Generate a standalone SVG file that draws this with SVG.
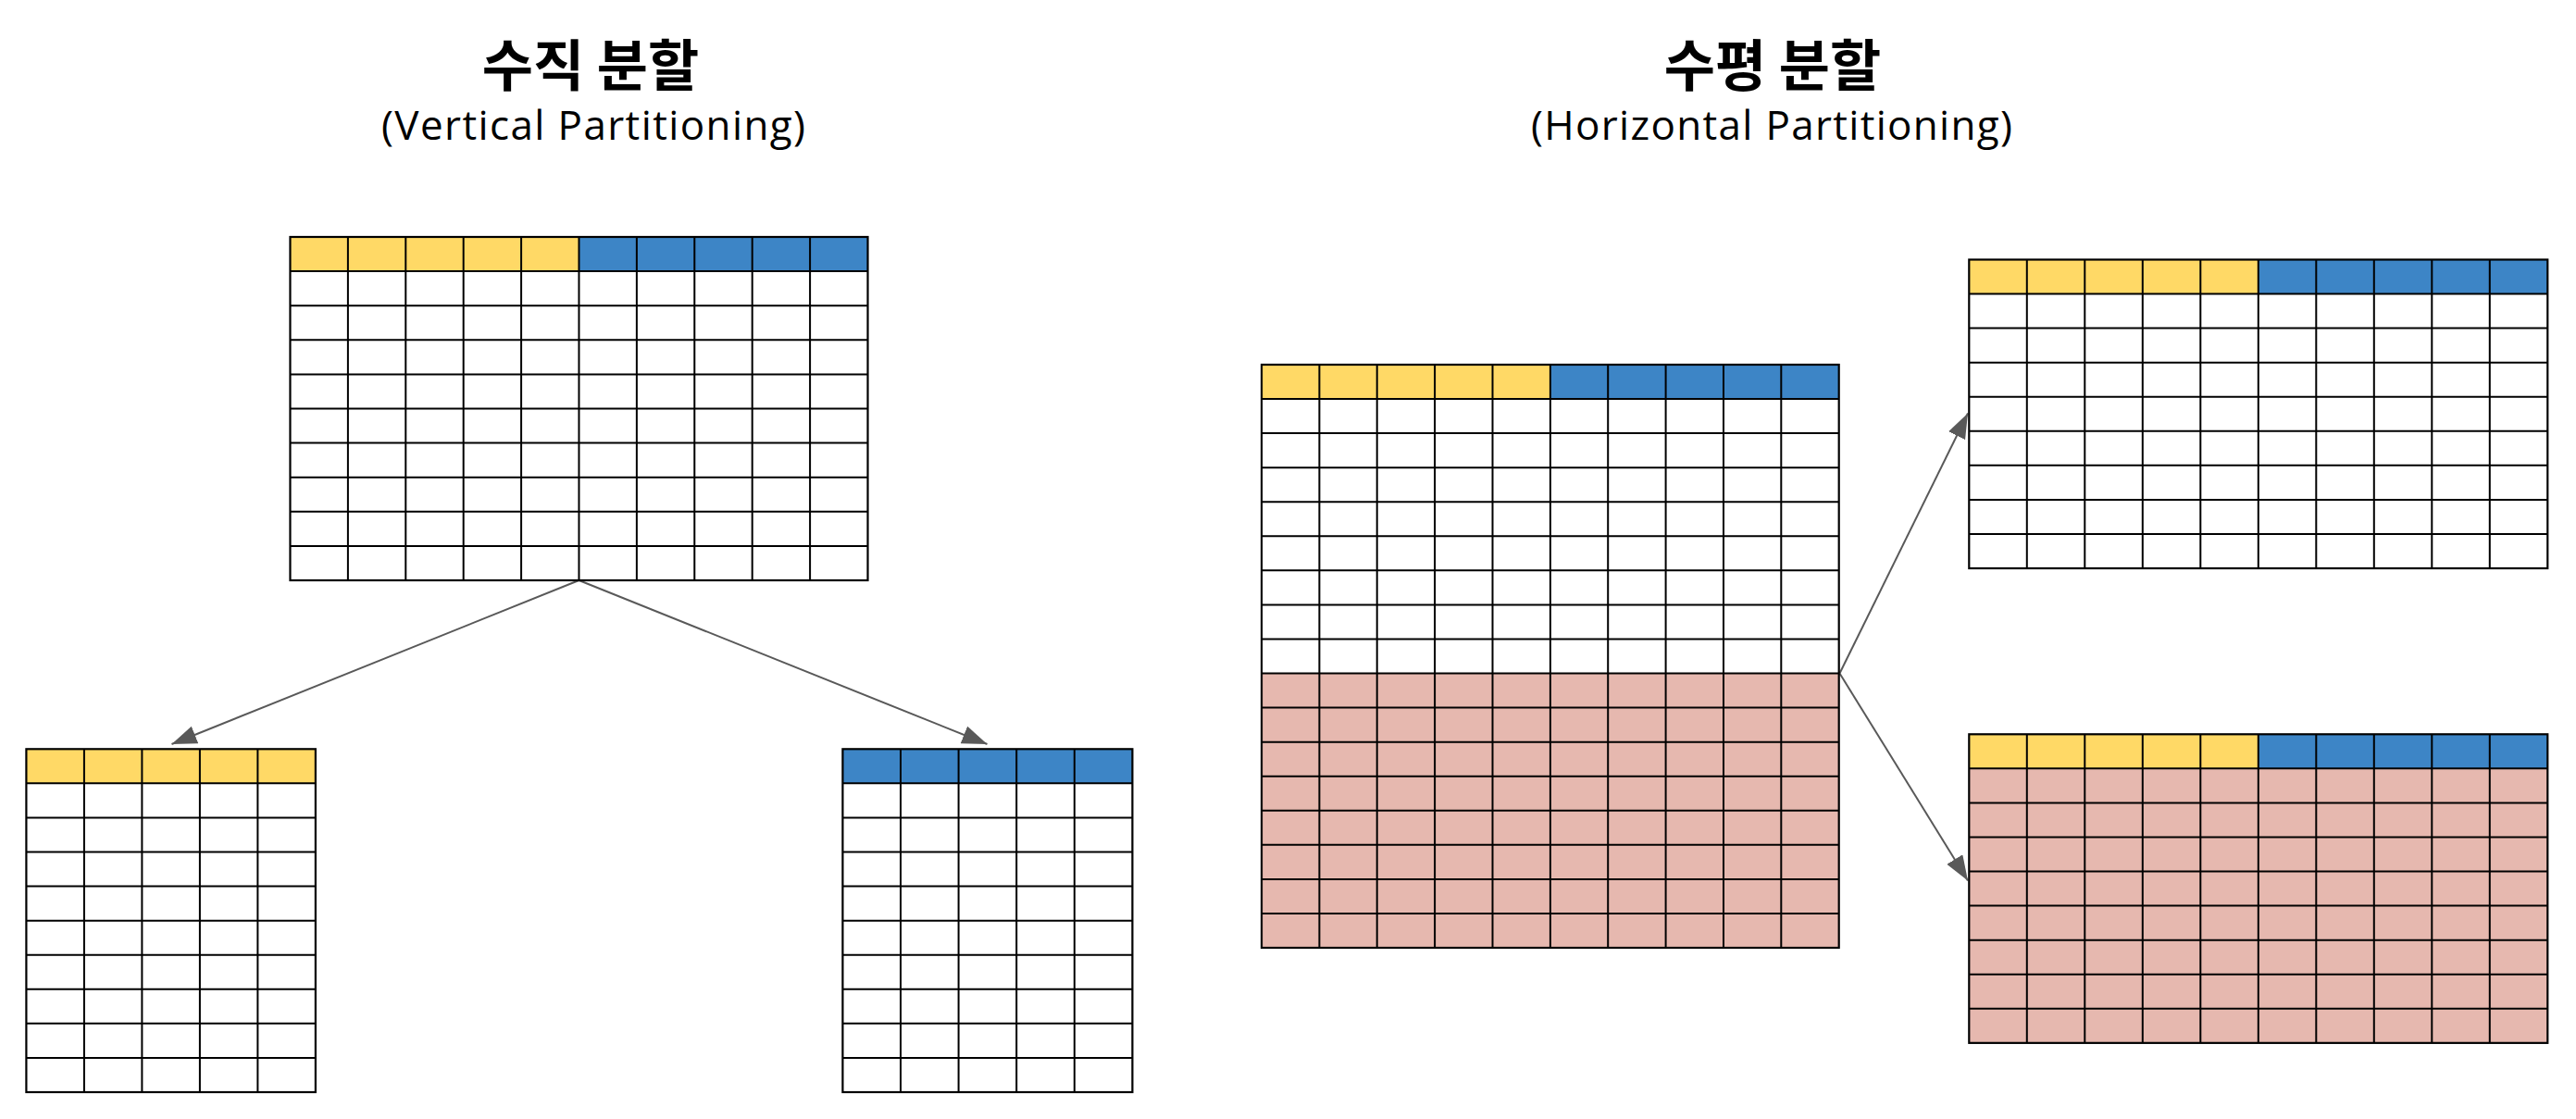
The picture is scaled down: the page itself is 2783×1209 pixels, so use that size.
<svg xmlns="http://www.w3.org/2000/svg" width="2783" height="1209" viewBox="0 0 2783 1209">
<style>
.bg{fill:#ffffff}
.y{fill:#FFD966}
.b{fill:#3D85C6}
.p{fill:#E6B8AF}
.w{fill:#ffffff}
.grid{fill:none;stroke:#000000;stroke-width:2}
.edge{fill:none;stroke:#000000;stroke-width:2.2}
.conn{fill:none;stroke:#595959;stroke-width:2}
.title{font-family:"Noto Sans CJK KR","Noto Sans",sans-serif;font-weight:700;font-size:60px;fill:#000;text-anchor:middle}
.sub{font-family:"Open Sans","Noto Sans","Liberation Sans",sans-serif;font-size:44px;fill:#000;text-anchor:middle}
</style>
<defs>
<marker id="arrow" markerUnits="userSpaceOnUse" markerWidth="28" markerHeight="22" refX="27" refY="10" orient="auto" viewBox="0 0 28 22">
<path d="M0,0 L27,10 L0,20 z" fill="#595959"/>
</marker>
</defs>
<rect class="bg" x="0" y="0" width="2783" height="1209"/>

<g id="titles">
<text class="title" x="638" y="92.5">수직 분할</text>
<text class="sub" x="641" y="151" textLength="458" lengthAdjust="spacing">(Vertical Partitioning)</text>
<text class="title" x="1915" y="92.5">수평 분할</text>
<text class="sub" x="1914" y="151" textLength="520" lengthAdjust="spacing">(Horizontal Partitioning)</text>
</g>

<g id="connectors">
<line class="conn" x1="625.5" y1="627" x2="185.5" y2="804" marker-end="url(#arrow)"/>
<line class="conn" x1="625.5" y1="627" x2="1066.5" y2="804" marker-end="url(#arrow)"/>
<line class="conn" x1="1987.5" y1="727.5" x2="2126" y2="446.5" marker-end="url(#arrow)"/>
<line class="conn" x1="1987.5" y1="727.5" x2="2126" y2="951.5" marker-end="url(#arrow)"/>
</g>

<g id="table-original-vertical">
<rect class="w" x="313.5" y="256" width="624" height="371"/>
<rect class="y" x="313.5" y="256" width="312" height="37.1"/>
<rect class="b" x="625.5" y="256" width="312" height="37.1"/>
<path class="grid" d="M375.9,256V627M438.3,256V627M500.7,256V627M563.1,256V627M625.5,256V627M687.9,256V627M750.3,256V627M812.7,256V627M875.1,256V627M313.5,293.1H937.5M313.5,330.2H937.5M313.5,367.3H937.5M313.5,404.4H937.5M313.5,441.5H937.5M313.5,478.6H937.5M313.5,515.7H937.5M313.5,552.8H937.5M313.5,589.9H937.5"/>
<rect class="edge" x="313.5" y="256" width="624" height="371"/>
</g>

<g id="table-vertical-left">
<rect class="w" x="28.4" y="809.3" width="312.5" height="370.7"/>
<rect class="y" x="28.4" y="809.3" width="312.5" height="37.07"/>
<path class="grid" d="M90.9,809.3V1180M153.4,809.3V1180M215.9,809.3V1180M278.4,809.3V1180M28.4,846.37H340.9M28.4,883.44H340.9M28.4,920.51H340.9M28.4,957.58H340.9M28.4,994.65H340.9M28.4,1031.72H340.9M28.4,1068.79H340.9M28.4,1105.86H340.9M28.4,1142.93H340.9"/>
<rect class="edge" x="28.4" y="809.3" width="312.5" height="370.7"/>
</g>

<g id="table-vertical-right">
<rect class="w" x="910.4" y="809.3" width="313" height="370.7"/>
<rect class="b" x="910.4" y="809.3" width="313" height="37.07"/>
<path class="grid" d="M973,809.3V1180M1035.6,809.3V1180M1098.2,809.3V1180M1160.8,809.3V1180M910.4,846.37H1223.4M910.4,883.44H1223.4M910.4,920.51H1223.4M910.4,957.58H1223.4M910.4,994.65H1223.4M910.4,1031.72H1223.4M910.4,1068.79H1223.4M910.4,1105.86H1223.4M910.4,1142.93H1223.4"/>
<rect class="edge" x="910.4" y="809.3" width="313" height="370.7"/>
</g>

<g id="table-original-horizontal">
<rect class="w" x="1363" y="394" width="623.7" height="630"/>
<rect class="y" x="1363" y="394" width="311.9" height="37.06"/>
<rect class="b" x="1674.9" y="394" width="311.8" height="37.06"/>
<rect class="p" x="1363" y="727.54" width="623.7" height="296.46"/>
<path class="grid" d="M1425.4,394V1024M1487.7,394V1024M1550.1,394V1024M1612.5,394V1024M1674.9,394V1024M1737.2,394V1024M1799.6,394V1024M1862,394V1024M1924.3,394V1024M1363,431.06H1986.7M1363,468.12H1986.7M1363,505.18H1986.7M1363,542.24H1986.7M1363,579.3H1986.7M1363,616.36H1986.7M1363,653.42H1986.7M1363,690.48H1986.7M1363,727.54H1986.7M1363,764.6H1986.7M1363,801.66H1986.7M1363,838.72H1986.7M1363,875.78H1986.7M1363,912.84H1986.7M1363,949.9H1986.7M1363,986.96H1986.7"/>
<rect class="edge" x="1363" y="394" width="623.7" height="630"/>
</g>

<g id="table-horizontal-top">
<rect class="w" x="2127.3" y="280.5" width="625" height="333.54"/>
<rect class="y" x="2127.3" y="280.5" width="312.5" height="37.06"/>
<rect class="b" x="2439.8" y="280.5" width="312.5" height="37.06"/>
<path class="grid" d="M2189.8,280.5V614.04M2252.3,280.5V614.04M2314.8,280.5V614.04M2377.3,280.5V614.04M2439.8,280.5V614.04M2502.3,280.5V614.04M2564.8,280.5V614.04M2627.3,280.5V614.04M2689.8,280.5V614.04M2127.3,317.56H2752.3M2127.3,354.62H2752.3M2127.3,391.68H2752.3M2127.3,428.74H2752.3M2127.3,465.8H2752.3M2127.3,502.86H2752.3M2127.3,539.92H2752.3M2127.3,576.98H2752.3"/>
<rect class="edge" x="2127.3" y="280.5" width="625" height="333.54"/>
</g>

<g id="table-horizontal-bottom">
<rect class="p" x="2127.3" y="793.3" width="625" height="333.54"/>
<rect class="y" x="2127.3" y="793.3" width="312.5" height="37.06"/>
<rect class="b" x="2439.8" y="793.3" width="312.5" height="37.06"/>
<path class="grid" d="M2189.8,793.3V1126.84M2252.3,793.3V1126.84M2314.8,793.3V1126.84M2377.3,793.3V1126.84M2439.8,793.3V1126.84M2502.3,793.3V1126.84M2564.8,793.3V1126.84M2627.3,793.3V1126.84M2689.8,793.3V1126.84M2127.3,830.36H2752.3M2127.3,867.42H2752.3M2127.3,904.48H2752.3M2127.3,941.54H2752.3M2127.3,978.6H2752.3M2127.3,1015.66H2752.3M2127.3,1052.72H2752.3M2127.3,1089.78H2752.3"/>
<rect class="edge" x="2127.3" y="793.3" width="625" height="333.54"/>
</g>
</svg>
